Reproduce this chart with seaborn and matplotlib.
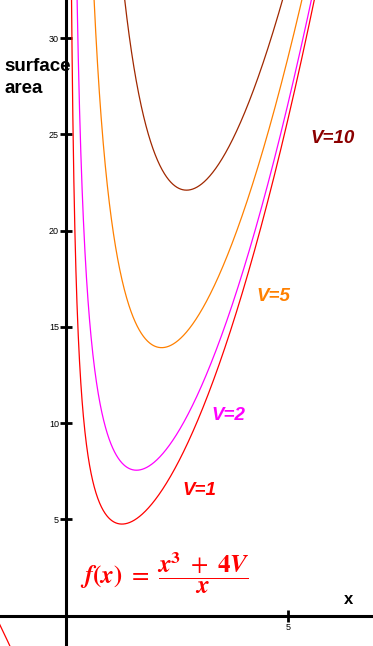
""" Surface area curves f(x) = (x^3 + 4V) / x for several volumes """

import numpy as np
import pandas as pd
import matplotlib
matplotlib.use("Agg")
import matplotlib.pyplot as plt
import seaborn as sns

# data
volumes = [1, 2, 5, 10]
volume_labels = ["V=1", "V=2", "V=5", "V=10"]
curve_colors = ["#ff0000", "#ff00ff", "#ff8000", "#a02800"]
label_colors = ["#ff0000", "#ff00ff", "#ff8000", "#8b0000"]
label_pos = [(3.0, 6.5), (3.66, 10.4), (4.66, 16.6), (6.0, 24.8)]
y_ticks = [5, 10, 15, 20, 25, 30]
x_ticks = [5]

# build the curves (negative and positive branch for each V)
frames = []
for v in volumes:
    for branch, xs in (("neg", np.linspace(-1.6, -0.05, 400)),
                       ("pos", np.linspace(0.05, 7.0, 1200))):
        frames.append(pd.DataFrame({
            "x": xs,
            "y": (xs ** 3 + 4 * v) / xs,
            "V": v,
            "branch": f"{v}-{branch}",
        }))
df = pd.concat(frames, ignore_index=True)

sns.set_style("white")
plt.rcParams["font.family"] = ["Liberation Sans", "DejaVu Sans"]
plt.rcParams["mathtext.fontset"] = "stix"
plt.rcParams["text.color"] = "black"

fig = plt.figure(figsize=(3.73, 6.46), dpi=100)
ax = fig.add_axes([0, 0, 1, 1])

sns.lineplot(data=df, x="x", y="y", hue="V", units="branch", estimator=None,
             palette=dict(zip(volumes, curve_colors)), linewidth=0.9,
             legend=False, sort=False, ax=ax)

ax.set_xlim(-1.486, 6.914)
ax.set_ylim(-1.57, 31.98)

# axes through the origin
for side in ("top", "right"):
    ax.spines[side].set_visible(False)
for side in ("left", "bottom"):
    ax.spines[side].set_position(("data", 0))
    ax.spines[side].set_linewidth(2.2)
    ax.spines[side].set_color("black")
    ax.spines[side].set_zorder(1)

ax.set_xticks(x_ticks)
ax.set_yticks(y_ticks)
ax.tick_params(left=True, bottom=True, direction="inout", length=8, width=2,
               color="black", labelcolor="black", labelsize=6.5, pad=1)
ax.set_xlabel("")
ax.set_ylabel("")

# labels
ax.text(0.013, 0.91, "surface\narea", transform=ax.transAxes, fontsize=13.5,
        fontweight="bold", ha="left", va="top", linespacing=1.4)
ax.text(0.935, 0.072, "x", transform=ax.transAxes, fontsize=12,
        fontweight="bold", ha="center", va="center")

for (lx, ly), text, color in zip(label_pos, volume_labels, label_colors):
    ax.text(lx, ly, text, color=color, fontsize=13.5, fontweight="bold",
            fontstyle="italic", ha="center", va="center")

ax.text(2.23, 2.2,
        r"$\mathbfit{f}\mathbf{(}\mathbfit{x}\mathbf{)}\ =\ \dfrac{\mathbfit{x}^{\mathbf{3}}\ +\ \mathbf{4}\mathbfit{V}}{\mathbfit{x}}$",
        color="#ff0000", fontsize=18, ha="center", va="center")

fig.savefig("out.png", dpi=100)
